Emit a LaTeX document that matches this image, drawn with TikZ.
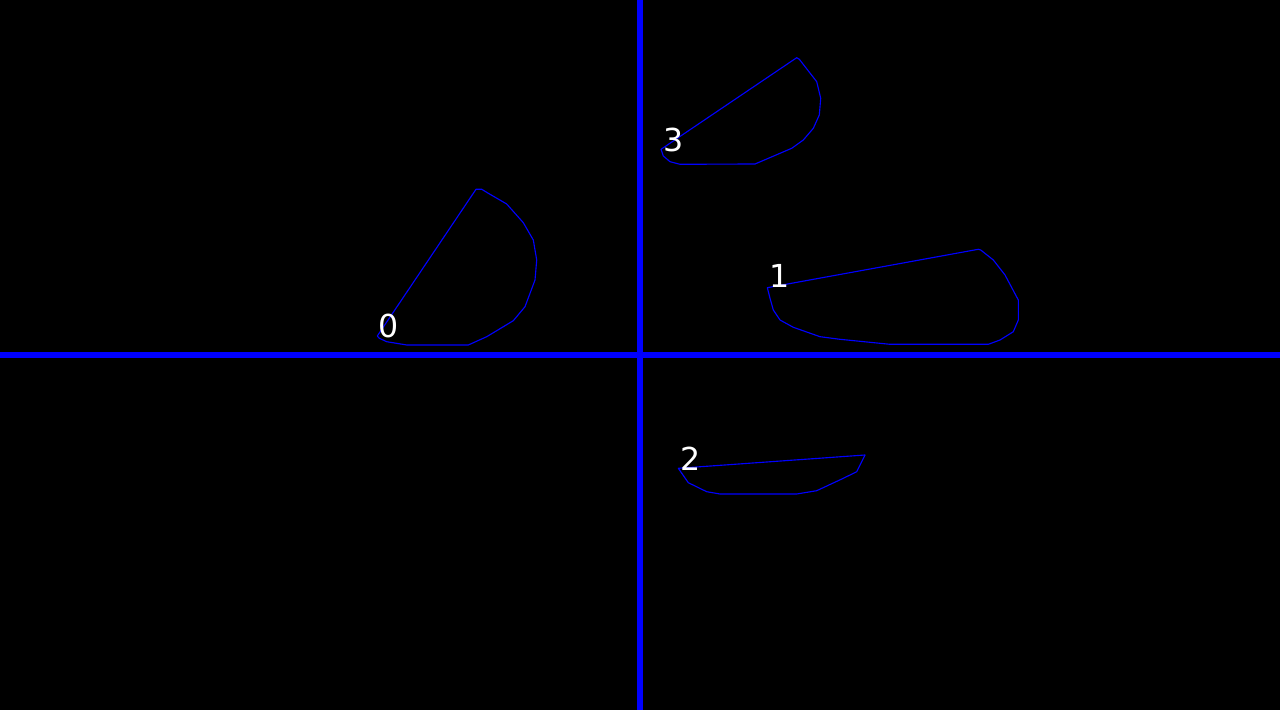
\documentclass[tikz,border=0pt]{standalone}
\usepackage{fontspec}
\setmainfont{DejaVu Sans}
\usetikzlibrary{positioning}
\definecolor{axisBlue}{RGB}{0,0,255}

\begin{document}
\begin{tikzpicture}[
            x=0.01cm, y=-0.01cm,
            axis/.style={draw=axisBlue, line width=6*0.2845pt},
            blob/.style={draw=axisBlue, line width=0.32pt, line join=round},
            tag/.style={text=white, font=\fontsize{9}{9}\selectfont, anchor=base west, inner sep=0pt}
        ]
            % Canvas
            \fill[black] (0,0) rectangle (1280,710);
            \useasboundingbox (0,0) rectangle (1280,710);

            % Axes
            \coordinate (top) at (640,0);
            \coordinate (bottom) at (640,710);
            \coordinate (left) at (0,355);
            \coordinate (right) at (1280,355);
            \draw[axis] (top) -- (bottom);
            \draw[axis] (left) -- (right);

            % Contours
            \coordinate (c0) at (377.3,336);
            \coordinate (c1) at (767.3,287.7);
            \coordinate (c2) at (678.3,468.3);
            \coordinate (c3) at (661,149.3);

            \draw[blob] (c0) -- (476,189.3) -- (481.7,189.3) -- (488.3,193.3) -- (506.7,204) -- (523.3,222.7)
                -- (533.3,240) -- (536.7,260) -- (535,280) -- (525,306.7) -- (513.3,320.7) -- (486.7,336.7)
                -- (468.3,345) -- (406.7,345) -- (386.7,341.7) -- (379.3,338.3) -- cycle;
            \draw[blob] (c1) -- (978.3,249.3) -- (980.7,250) -- (993.3,260) -- (1005,275) -- (1018.3,300)
                -- (1018.3,320) -- (1013.3,331.7) -- (1000,340) -- (988.3,344.3) -- (890,344.3) -- (840,339.3)
                -- (820,336.7) -- (793.3,327.3) -- (780,320) -- (773.3,310) -- (770,298.3) -- cycle;
            \draw[blob] (c2) -- (865,455) -- (856.7,471.7) -- (843.3,478.3) -- (816.7,490.7) -- (796.7,494)
                -- (720,494) -- (706.7,491.7) -- (688.3,482.7) -- cycle;
            \draw[blob] (c3) -- (796.7,57.7) -- (799.3,59.3) -- (816.7,81.7) -- (820.7,98.3) -- (819.3,115)
                -- (813.3,128.3) -- (803.3,140) -- (791.7,148.3) -- (755,164) -- (680,164.3) -- (670,161.7)
                -- (663.3,156) -- cycle;

            % Labels
            \node[tag] (l0) at (378,338) {0};
            \node[tag] (l1) at (769,288) {1};
            \node[tag] (l2) at (680,470) {2};
            \node[tag] (l3) at (663,152) {3};
            \end{tikzpicture}
\end{document}
